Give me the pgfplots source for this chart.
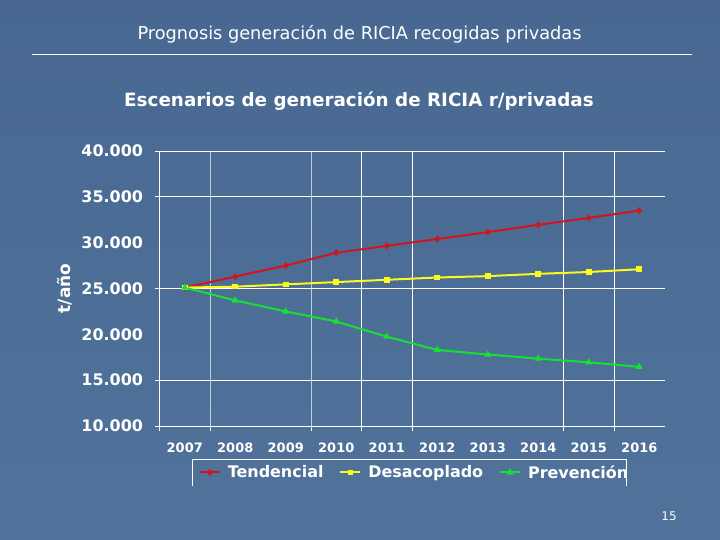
\documentclass[border=0pt]{standalone}
\usepackage{fontspec}
\setmainfont{DejaVu Sans}
\usepackage{pgfplots}
\usepackage{pgfplotstable}
\pgfplotsset{compat=1.18}
\tikzset{gl/.style={white, line width=0.8bp}}
\definecolor{bgtop}{RGB}{72,104,145}
\definecolor{bgbot}{RGB}{80,114,155}
\definecolor{lred}{RGB}{210,20,30}
\definecolor{lyel}{RGB}{250,250,30}
\definecolor{lgrn}{RGB}{20,225,50}
\pgfplotstableread{
x t d p
0 25100 25100 25100
1 26300 25200 23700
2 27500 25450 22500
3 28900 25700 21400
4 29650 25950 19750
5 30400 26200 18300
6 31150 26350 17800
7 31950 26600 17350
8 32700 26800 16950
9 33500 27100 16450
}\data
\begin{document}
\begin{tikzpicture}[x=1bp,y=1bp]
\shade[top color=bgtop, bottom color=bgbot] (0,0) rectangle (720,-540);
\useasboundingbox (0,0) rectangle (720,-540);
\node[white, font=\fontsize{17.8}{20}\selectfont] at (359.5,-34) {Prognosis generación de RICIA recogidas privadas};
\draw[gl] (32,-54) -- (692,-54);
\node[white, font=\fontsize{18.4}{21}\selectfont\bfseries] at (359,-101) {Escenarios de generación de RICIA r/privadas};
\node[white, font=\fontsize{12}{14}\selectfont] at (669,-516) {15};
\begin{axis}[
  at={(159.5bp,-426bp)}, anchor=south west, scale only axis,
  width=505bp, height=275bp,
  xmin=-0.5, xmax=9.5, ymin=10000, ymax=40000,
  clip=false,
  axis x line*=bottom, axis y line*=left,
  axis line style={white, line width=0.8bp},
  xtick={0,...,9}, xticklabels={2007,2008,2009,2010,2011,2012,2013,2014,2015,2016},
  ytick={10000,15000,20000,25000,30000,35000,40000},
  major tick length=0pt,
  grid=none,
  scaled y ticks=false,
  /pgf/number format/1000 sep={.},
  /pgf/number format/assume math mode=true,
  yticklabel style={font=\fontsize{16}{18}\selectfont\bfseries, text=white, xshift=-13bp},
  xticklabel style={font=\fontsize{13}{15}\selectfont\bfseries, text=white, yshift=-13bp},
  ylabel={t/año},
  ylabel style={at={(axis description cs:-0.187,0.5)}, anchor=center, font=\fontsize{17}{19}\selectfont\bfseries, text=white},
  legend columns=3,
  legend style={at={(axis description cs:0.505,-0.169)}, anchor=center, draw=none, fill=none,
    text=white, font=\fontsize{16}{18}\selectfont\bfseries,
    /tikz/every odd column/.append style={column sep=5bp},
    /tikz/every even column/.append style={column sep=14bp}},
  legend image code/.code={\draw[mark repeat=2,mark phase=2,#1] plot coordinates {(0bp,0bp)(10bp,0bp)(20bp,0bp)};},
]
% grid lines (only those visible in the reference)
\draw[gl] (axis cs:-0.5,15000) -- (axis cs:9.5,15000);
\draw[gl] (axis cs:-0.5,25000) -- (axis cs:9.5,25000);
\draw[gl] (axis cs:-0.5,35000) -- (axis cs:9.5,35000);
\draw[gl] (axis cs:-0.5,40000) -- (axis cs:9.5,40000);
\draw[gl] (axis cs:-0.5,10000) -- ++(-5bp,0bp);
\draw[gl] (axis cs:-0.5,15000) -- ++(-5bp,0bp);
\draw[gl] (axis cs:-0.5,25000) -- ++(-5bp,0bp);
\draw[gl] (axis cs:-0.5,35000) -- ++(-5bp,0bp);
\draw[gl] (axis cs:-0.5,40000) -- ++(-5bp,0bp);
\draw[gl] (axis cs:0.5,40000) -- (axis cs:0.5,10000) -- ++(0bp,-5bp);
\draw[gl] (axis cs:2.5,40000) -- (axis cs:2.5,10000) -- ++(0bp,-5bp);
\draw[gl] (axis cs:3.5,40000) -- (axis cs:3.5,10000) -- ++(0bp,-5bp);
\draw[gl] (axis cs:4.5,40000) -- (axis cs:4.5,10000) -- ++(0bp,-5bp);
\draw[gl] (axis cs:7.5,40000) -- (axis cs:7.5,10000) -- ++(0bp,-5bp);
\draw[gl] (axis cs:8.5,40000) -- (axis cs:8.5,10000) -- ++(0bp,-5bp);
\draw[gl] (axis cs:-0.5,10000) -- ++(0bp,-5bp);
\addplot[lred, line width=2bp, mark=diamond*, mark size=2bp] table[x=x,y=t]{\data};
\addlegendentry{Tendencial}
\addplot[lyel, line width=2bp, mark=square*, mark size=1.8bp] table[x=x,y=d]{\data};
\addlegendentry{Desacoplado}
\addplot[lgrn, line width=2bp, mark=triangle*, mark size=2.2bp] table[x=x,y=p]{\data};
\addlegendentry{Prevención}
\draw[gl] (axis cs:0.15,3455) -- (axis cs:0.15,6367) -- (axis cs:8.75,6367) -- (axis cs:8.75,3455);
\end{axis}
\end{tikzpicture}
\end{document}
